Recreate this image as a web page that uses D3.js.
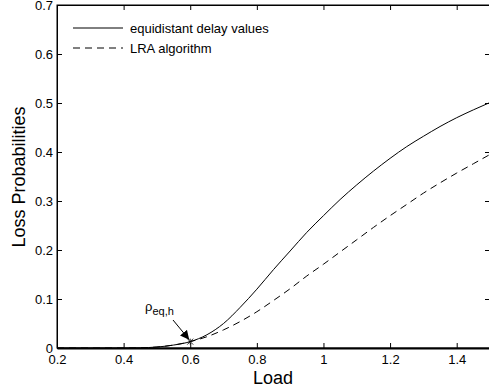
<!DOCTYPE html>
<html><head><meta charset="utf-8">
<script src="https://cdn.jsdelivr.net/npm/d3@7"></script>
<style>body{margin:0;background:#fff;} svg{display:block;font-family:"Liberation Sans",Arial,sans-serif;}</style>
</head><body>
<script>
const loads = [0.2,0.3,0.4,0.45,0.5,0.55,0.6,0.65,0.7,0.75,0.8,0.85,0.9,0.95,1.0,1.05,1.1,1.15,1.2,1.25,1.3,1.35,1.4,1.45,1.5];
const equidistant = [0,0,0,0.0004,0.002,0.006,0.013,0.027,0.05,0.083,0.12,0.16,0.198,0.236,0.27,0.303,0.333,0.361,0.387,0.411,0.432,0.452,0.47,0.486,0.501];
const lra = [0,0,0,0.0004,0.002,0.006,0.013,0.023,0.037,0.054,0.074,0.097,0.121,0.147,0.171,0.196,0.221,0.246,0.27,0.293,0.316,0.337,0.357,0.376,0.395];
const xTicks = [0.2,0.4,0.6,0.8,1,1.2,1.4];
const yTicks = [0,0.1,0.2,0.3,0.4,0.5,0.6,0.7];
const legendLabels = ["equidistant delay values","LRA algorithm"];
const marker = {x:0.6, y:0.013};

const W=489,H=392;
const m={l:57,r:-1,t:5,b:44};
const svg=d3.select("body").append("svg").attr("width",W).attr("height",H);
const x=d3.scaleLinear().domain([0.2,1.5]).range([m.l,W-m.r]);
const y=d3.scaleLinear().domain([0,0.7]).range([H-m.b,m.t]);

svg.append("rect").attr("x",x(0.2)).attr("y",y(0.7)).attr("width",x(1.5)-x(0.2)).attr("height",y(0)-y(0.7))
  .attr("fill","none").attr("stroke","#000").attr("stroke-width",1);

const xa=svg.append("g").attr("transform",`translate(0,${y(0)})`)
  .call(d3.axisBottom(x).tickValues(xTicks).tickSizeInner(-5).tickSizeOuter(0).tickPadding(7).tickFormat(d3.format("~g")));
const xt=svg.append("g").attr("transform",`translate(0,${y(0.7)})`)
  .call(d3.axisTop(x).tickValues(xTicks).tickSizeInner(-5).tickSizeOuter(0).tickFormat(""));
const ya=svg.append("g").attr("transform",`translate(${x(0.2)},0)`)
  .call(d3.axisLeft(y).tickValues(yTicks).tickSizeInner(-5).tickSizeOuter(0).tickPadding(4).tickFormat(d3.format("~g")));
const yr=svg.append("g").attr("transform",`translate(${x(1.5)},0)`)
  .call(d3.axisRight(y).tickValues(yTicks).tickSizeInner(-5).tickSizeOuter(0).tickFormat(""));
[xa,xt,ya,yr].forEach(g=>{g.select(".domain").attr("stroke","#000").attr("stroke-width",1);
  g.selectAll("text").attr("font-size",13).attr("fill","#000").attr("font-family","Liberation Sans, Arial, sans-serif");});
xa.select(".domain").attr("stroke-width",2);

const line=d3.line().curve(d3.curveMonotoneX).x((d,i)=>x(loads[i])).y(d=>y(d));
svg.append("path").datum(equidistant).attr("d",line).attr("fill","none").attr("stroke","#000").attr("stroke-width",1);
svg.append("path").datum(lra).attr("d",line).attr("fill","none").attr("stroke","#000").attr("stroke-width",1).attr("stroke-dasharray","7,5");

const lg=svg.append("g");
[0,1].forEach(i=>{
  const yy=28+i*20;
  lg.append("line").attr("x1",73).attr("x2",123).attr("y1",yy).attr("y2",yy).attr("stroke","#000")
    .attr("stroke-dasharray",i?"7,5":null);
  lg.append("text").attr("x",130).attr("y",yy+4.5).attr("font-size",13).text(legendLabels[i]);
});

const mx=x(marker.x), my=y(marker.y);
svg.append("path").attr("d",`M${mx-3},${my-3}L${mx+3},${my+3}M${mx-3},${my+3}L${mx+3},${my-3}M${mx},${my-3}L${mx},${my+3}`).attr("stroke","#000").attr("stroke-width",0.8);
svg.append("defs").append("marker").attr("id","ah").attr("viewBox","0 0 10 10").attr("refX",10).attr("refY",5)
  .attr("markerWidth",9).attr("markerHeight",9).attr("markerUnits","userSpaceOnUse").attr("orient","auto")
  .append("path").attr("d","M0,0L10,5L0,10z").attr("fill","#000");
svg.append("line").attr("x1",173).attr("y1",320).attr("x2",mx-1).attr("y2",my-2).attr("stroke","#000").attr("stroke-width",1).attr("marker-end","url(#ah)");
const at=svg.append("text").attr("x",145).attr("y",311).attr("font-size",13);
at.append("tspan").text("ρ");
at.append("tspan").attr("dy",4).attr("font-size",11).text("eq,h");

svg.append("text").attr("x",273).attr("y",384).attr("text-anchor","middle").attr("font-size",18).text("Load");
svg.append("text").attr("transform",`translate(25,177) rotate(-90)`).attr("text-anchor","middle").attr("font-size",18).text("Loss Probabilities");
</script>
</body></html>
